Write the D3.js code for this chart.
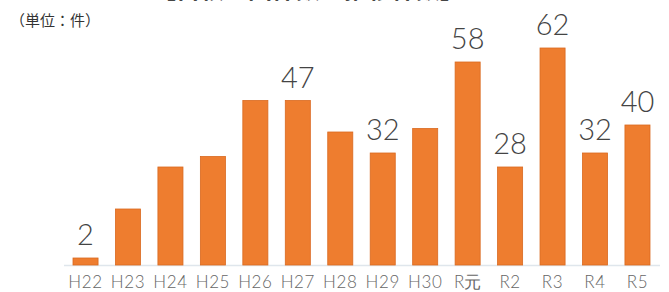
<!DOCTYPE html>
<html>
<head>
<meta charset="utf-8">
<script src="https://cdn.jsdelivr.net/npm/d3@7"></script>
<style>
  body { margin: 0; background: #fff; }
  svg { display: block; }
</style>
</head>
<body>
<div id="chart"></div>
<script>
// data
const years = ["H22", "H23", "H24", "H25", "H26", "H27", "H28", "H29", "H30", "R元", "R2", "R3", "R4", "R5"];
const counts = [2, 16, 28, 31, 47, 47, 38, 32, 39, 58, 28, 62, 32, 40];
const labelled = ["H22", "H27", "H29", "R元", "R2", "R3", "R4", "R5"];

const width = 669;
const height = 292;
const baseY = 265;

const svg = d3.select("#chart").append("svg")
    .attr("width", width)
    .attr("height", height);

// title, only its bottom edge shows in the reference
svg.append("text")
    .attr("x", 308)
    .attr("y", -2)
    .attr("text-anchor", "middle")
    .style("font", "bold 24px 'Noto Sans CJK JP'")
    .attr("fill", "#111")
    .text("【自殺企図件数の推移件数】");

svg.append("text")
    .attr("x", 10)
    .attr("y", 26)
    .style("font", "15px 'Noto Sans CJK JP'")
    .attr("fill", "#333")
    .text("（単位：件）");

const x = d3.scaleBand()
    .domain(years)
    .range([64.3, 658.7])
    .paddingInner(0.41)
    .paddingOuter(0.205);

const y = d3.scaleLinear()
    .domain([0, 62])
    .range([baseY, baseY - 62 * 3.5]);

// baseline
svg.append("line")
    .attr("x1", 64)
    .attr("x2", 660)
    .attr("y1", baseY + 0.5)
    .attr("y2", baseY + 0.5)
    .attr("stroke", "#dfe6ec")
    .attr("stroke-width", 1.5);

svg.append("g")
  .selectAll("rect")
  .data(years)
  .join("rect")
    .attr("x", d => x(d))
    .attr("y", (d, i) => y(counts[i]))
    .attr("width", x.bandwidth())
    .attr("height", (d, i) => y(0) - y(counts[i]))
    .attr("fill", "#ee7d2f")
    .attr("stroke", "#d9691f")
    .attr("stroke-width", 0.8);

// value labels
svg.append("g")
    .style("font", "300 29px Lato, 'Liberation Sans', sans-serif")
    .attr("fill", "#444")
  .selectAll("text")
  .data(years.filter(d => labelled.includes(d)))
  .join("text")
    .attr("x", d => x(d) + x.bandwidth() / 2)
    .attr("y", d => y(counts[years.indexOf(d)]) - 13)
    .attr("text-anchor", "middle")
    .text(d => counts[years.indexOf(d)]);

// category labels
svg.append("g")
    .style("font", "300 17px Lato, 'Liberation Sans', sans-serif")
    .attr("fill", "#666")
  .selectAll("text")
  .data(years)
  .join("text")
    .attr("x", d => x(d) + x.bandwidth() / 2)
    .attr("y", 288)
    .attr("text-anchor", "middle")
    .attr("letter-spacing", d => d === "R元" ? 0 : 0.6)
    .text(d => d);
</script>
</body>
</html>
